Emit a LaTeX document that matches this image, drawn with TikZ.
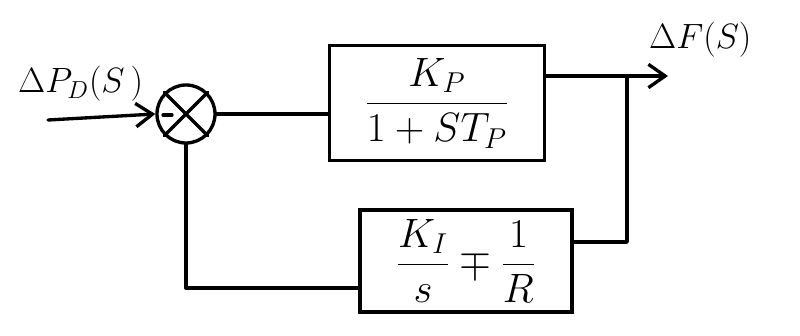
\documentclass[tikz,border=0pt]{standalone}
\usepackage{fix-cm}
\usepackage{amsmath}
\usepackage{graphicx}
\usetikzlibrary{arrows.meta}
\begin{document}
\begin{tikzpicture}[x=0.3mm,y=-0.3mm,
  wire/.style={line width=1mm, line join=round, line cap=round},
  arr/.style={wire, -{Straight Barb[length=5mm,width=7mm,line width=1mm]}},
  block/.style={draw, line width=1mm, minimum width=#1, inner sep=0pt},
  sumnode/.style={draw, circle, line width=1mm, minimum size=17.4mm, inner sep=0pt},
  lbl/.style={font=\fontsize{20}{24}\selectfont},
  big/.style={font=\fontsize{20}{24}\selectfont}]
\useasboundingbox (0,0) rectangle (800,336);
\node[sumnode] (sum) at (186,114) {};
\draw[wire] (sum.north west) -- (sum.south east);
\draw[wire] (sum.north east) -- (sum.south west);
\draw[wire] (sum.center) ++(-23,1) -- ++(9,0);
\node[block=64.5mm, minimum height=34.5mm, big] (fwd) at (437,103) {\scalebox{1.75}{$\dfrac{K_P}{1+ST_P}$}};
\node[block=63.6mm, minimum height=30.6mm, big] (fb) at (466,261) {\scalebox{1.75}{$\dfrac{K_I}{s}\mp\dfrac{1}{R}$}};
\coordinate (in) at (48,120);
\coordinate (out) at (668,76);
\coordinate (br) at (627,76);
\coordinate (brd) at (627,242);
\coordinate (corner) at (186,288);
\node[lbl, anchor=west] (lin) at (14,84) {\scalebox{1.5}{$\Delta P_D(S\,)$}};
\node[lbl, anchor=west] (lout) at (645,40) {\scalebox{1.5}{$\Delta F(S)$}};
\draw[arr] (in) -- (sum.west);
\draw[wire] (sum.east) -- (fwd.west |- sum.east);
\draw[arr] (fwd.east |- out) -- (out);
\draw[wire] (br) -- (brd) -- (fb.east |- brd);
\draw[wire] (fb.west |- corner) -- (corner) -- (sum.south);
\end{tikzpicture}
\end{document}
